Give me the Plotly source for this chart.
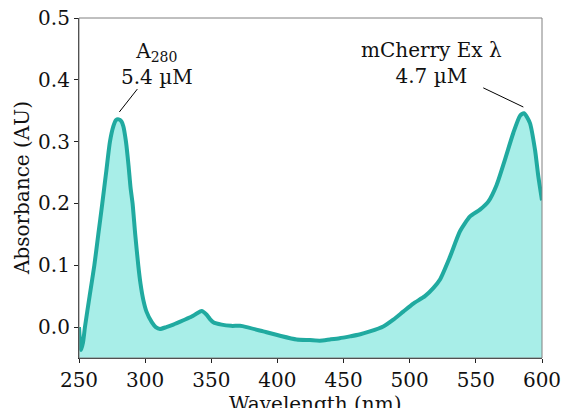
import plotly.graph_objects as go

wavelength = [250, 251.5, 253, 254.5, 258, 261.6, 264.6, 267.6, 270.5, 273.4, 276, 278, 280, 282,
              283.5, 285.5, 287.5, 289, 290.5, 292.5, 294.8, 296.5, 298.6, 301, 305, 308, 311.2,
              316, 321.3, 328.9, 335.2, 339, 342.7, 346.5, 349, 351.5, 357.8, 365, 371.7, 376.7,
              389.3, 401.9, 414.5, 424.6, 432, 439.7, 447, 454.8, 462, 469.9, 480, 487.6, 495.1,
              502.7, 511.5, 517.8, 522.9, 530.5, 538, 545.6, 553.1, 559.4, 565.7, 572, 578.3,
              583.4, 586.4, 590.9, 594.7, 597.2, 600]
absorbance = [0.000, -0.037, -0.025, 0.0, 0.05, 0.10, 0.15, 0.20, 0.25, 0.30, 0.325, 0.335, 0.336,
              0.333, 0.325, 0.30, 0.26, 0.225, 0.20, 0.15, 0.10, 0.07, 0.044, 0.025, 0.008, 0.0,
              -0.003, 0.0, 0.004, 0.011, 0.017, 0.022, 0.026, 0.020, 0.013, 0.008, 0.004, 0.002,
              0.002, 0.000, -0.007, -0.014, -0.020, -0.021, -0.022, -0.020, -0.018, -0.015, -0.012,
              -0.007, 0.001, 0.012, 0.025, 0.038, 0.05, 0.063, 0.077, 0.114, 0.155, 0.179, 0.19,
              0.203, 0.230, 0.271, 0.314, 0.342, 0.346, 0.330, 0.287, 0.244, 0.205]

x_ticks = [250, 300, 350, 400, 450, 500, 550, 600]
y_ticks = [0.0, 0.1, 0.2, 0.3, 0.4, 0.5]
x_range = [250, 600]
y_range = [-0.05, 0.5]

labels = ["A<sub>280</sub><br>5.4 µM", "mCherry Ex λ<br>4.7 µM"]
label_pos = [(308.7, 0.426), (516.6, 0.428)]
pointer_lines = [((294.1, 0.385), (280.5, 0.348)), ((555.6, 0.387), (585.9, 0.356))]

FONT = "DejaVu Serif"
FS = 20
LINE_COLOR = "#20AAA0"
FILL_COLOR = "#A8EEE8"
TEXT_COLOR = "#111111"

fig = go.Figure()
fig.add_trace(go.Scatter(x=[x_range[0], x_range[1]], y=[y_range[0], y_range[0]],
                         mode="lines", line=dict(width=0), showlegend=False, hoverinfo="skip"))
fig.add_trace(go.Scatter(x=wavelength, y=absorbance, mode="lines", fill="tonexty",
                         fillcolor=FILL_COLOR,
                         line=dict(color=LINE_COLOR, width=4, shape="spline", smoothing=0.6),
                         showlegend=False))

for (x0, y0), (x1, y1) in pointer_lines:
    fig.add_shape(type="line", x0=x0, y0=y0, x1=x1, y1=y1, xref="x", yref="y",
                  line=dict(color="black", width=1))

for text, (x, y) in zip(labels, label_pos):
    fig.add_annotation(x=x, y=y, xref="x", yref="y", text=text, showarrow=False,
                       font=dict(family=FONT, size=FS, color=TEXT_COLOR), align="center")

# frame (top/right grey)
fig.add_shape(type="rect", xref="paper", yref="paper", x0=0, y0=0, x1=1, y1=1,
              line=dict(color="#808080", width=1), layer="above")

fig.add_annotation(text="Absorbance (AU)", xref="paper", yref="paper", x=-0.123, y=0.5,
                   xanchor="center", yanchor="middle", textangle=-90, showarrow=False,
                   font=dict(family=FONT, size=FS, color=TEXT_COLOR))
fig.add_annotation(text="Wavelength (nm)", xref="paper", yref="paper", x=0.51, y=-0.135,
                   xanchor="center", yanchor="middle", showarrow=False,
                   font=dict(family=FONT, size=FS, color=TEXT_COLOR))

fig.update_layout(
    width=563, height=408,
    margin=dict(l=79, r=21, t=18, b=50, autoexpand=False),
    paper_bgcolor="white", plot_bgcolor="white",
    font=dict(family=FONT, size=FS, color=TEXT_COLOR),
    xaxis=dict(range=x_range, tickvals=x_ticks, ticks="outside", ticklen=4, tickcolor="#222222",
               showline=True, linecolor="#222222", linewidth=1.2, showgrid=False, zeroline=False,
               automargin=False),
    yaxis=dict(range=y_range, tickvals=y_ticks, tickformat=".1f", ticks="outside", ticklen=4,
               tickcolor="#222222", showline=True, linecolor="#222222", linewidth=1.2,
               showgrid=False, zeroline=False, automargin=False),
)

fig.write_html("out.html", config={"displayModeBar": False},
               post_script="document.body.style.margin='0';document.body.style.overflow='hidden';")
